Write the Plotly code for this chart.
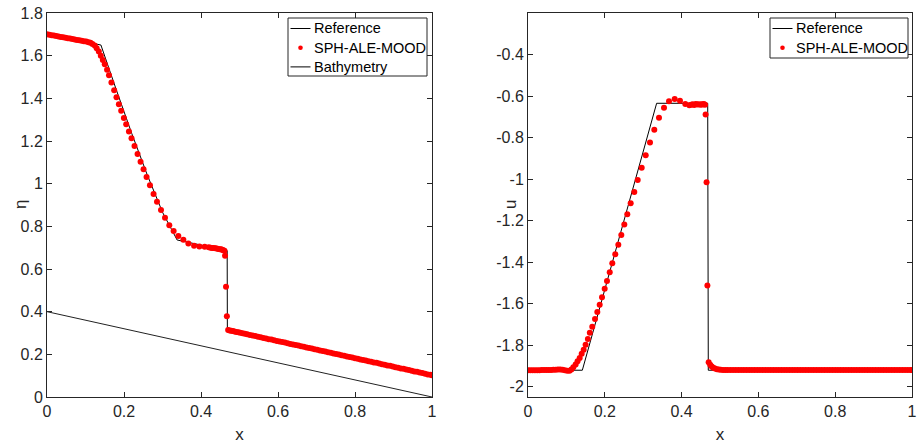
import plotly.graph_objects as go

# ---------------- data ----------------
# SPH-ALE-MOOD particle positions (shared by both panels)
x_sph = [
    0.000, 0.006, 0.012, 0.018, 0.024, 0.030, 0.036, 0.042, 0.048, 0.054,
    0.060, 0.066, 0.072, 0.078, 0.084, 0.090, 0.096, 0.102, 0.108, 0.113,
    0.118, 0.124, 0.129, 0.1346, 0.1398, 0.145, 0.150, 0.156, 0.161, 0.1674,
    0.1745, 0.1805, 0.1867, 0.1927, 0.1997, 0.2057, 0.2128, 0.2195, 0.2273, 0.2352,
    0.2430, 0.2508, 0.2586, 0.2674, 0.2768, 0.2857, 0.2961, 0.3065, 0.3177, 0.3289,
    0.3411, 0.3542, 0.3672, 0.3820, 0.3958, 0.4096, 0.4201,
    0.425, 0.429, 0.433, 0.437, 0.441, 0.445, 0.449, 0.452, 0.455, 0.458, 0.461,
    0.4625, 0.4650, 0.4672,
    0.4705, 0.4745, 0.4785, 0.4825, 0.487, 0.492, 0.497, 0.502, 0.508, 0.514,
    0.520, 0.527, 0.534, 0.541, 0.548, 0.555, 0.562, 0.569, 0.576, 0.583,
    0.590, 0.597, 0.604, 0.611, 0.618, 0.625, 0.632, 0.639, 0.646, 0.653,
    0.660, 0.667, 0.674, 0.681, 0.688, 0.695, 0.702, 0.709, 0.716, 0.723,
    0.730, 0.737, 0.744, 0.751, 0.758, 0.765, 0.772, 0.779, 0.786, 0.793,
    0.800, 0.807, 0.814, 0.821, 0.828, 0.835, 0.842, 0.849, 0.856, 0.863,
    0.870, 0.877, 0.884, 0.891, 0.898, 0.905, 0.912, 0.919, 0.926, 0.933,
    0.940, 0.947, 0.954, 0.961, 0.968, 0.975, 0.982, 0.989, 0.996, 1.000,
]
eta_sph = [
    1.700, 1.698, 1.696, 1.694, 1.692, 1.690, 1.688, 1.686, 1.684, 1.682,
    1.680, 1.678, 1.676, 1.674, 1.672, 1.670, 1.668, 1.666, 1.663, 1.660,
    1.655, 1.648, 1.635, 1.619, 1.600, 1.580, 1.560, 1.534, 1.508, 1.474,
    1.438, 1.405, 1.372, 1.342, 1.308, 1.279, 1.245, 1.213, 1.176, 1.139,
    1.103, 1.067, 1.031, 0.993, 0.952, 0.915, 0.877, 0.840, 0.805, 0.778,
    0.755, 0.737, 0.720, 0.709, 0.705, 0.704, 0.702,
    0.700, 0.699, 0.698, 0.697, 0.696, 0.694, 0.693, 0.692, 0.690, 0.688, 0.686,
    0.662, 0.517, 0.378,
    0.314, 0.312, 0.310, 0.309, 0.307, 0.305, 0.303, 0.301, 0.299, 0.296,
    0.294, 0.291, 0.288, 0.286, 0.283, 0.280, 0.277, 0.274, 0.271, 0.269,
    0.266, 0.263, 0.260, 0.258, 0.255, 0.252, 0.249, 0.246, 0.244, 0.241,
    0.238, 0.235, 0.232, 0.230, 0.227, 0.224, 0.221, 0.218, 0.216, 0.213,
    0.210, 0.207, 0.204, 0.202, 0.199, 0.196, 0.193, 0.190, 0.188, 0.185,
    0.182, 0.179, 0.176, 0.174, 0.171, 0.168, 0.165, 0.162, 0.160, 0.157,
    0.154, 0.151, 0.148, 0.146, 0.143, 0.140, 0.137, 0.134, 0.132, 0.129,
    0.126, 0.123, 0.120, 0.118, 0.115, 0.112, 0.109, 0.106, 0.104, 0.102,
]
u_sph = [
    -1.921, -1.921, -1.921, -1.921, -1.921, -1.921, -1.920, -1.920, -1.920, -1.920,
    -1.920, -1.919, -1.919, -1.918, -1.918, -1.919, -1.921, -1.923, -1.923, -1.918,
    -1.907, -1.894, -1.878, -1.862, -1.842, -1.822, -1.798, -1.770, -1.741, -1.711,
    -1.674, -1.640, -1.605, -1.570, -1.529, -1.491, -1.449, -1.406, -1.362, -1.317,
    -1.269, -1.219, -1.170, -1.117, -1.062, -1.004, -0.946, -0.885, -0.824, -0.763,
    -0.705, -0.657, -0.625, -0.614, -0.623, -0.638, -0.645,
    -0.642, -0.640, -0.643, -0.639, -0.641, -0.640, -0.642, -0.640, -0.641, -0.639, -0.642,
    -0.689, -1.015, -1.513,
    -1.883, -1.895, -1.903, -1.909, -1.913, -1.916, -1.918, -1.919, -1.920, -1.920,
    -1.920, -1.920, -1.920, -1.920, -1.920, -1.920, -1.920, -1.920, -1.920, -1.920,
    -1.920, -1.920, -1.920, -1.920, -1.920, -1.920, -1.920, -1.920, -1.920, -1.920,
    -1.920, -1.920, -1.920, -1.920, -1.920, -1.920, -1.920, -1.920, -1.920, -1.920,
    -1.920, -1.920, -1.920, -1.920, -1.920, -1.920, -1.920, -1.920, -1.920, -1.920,
    -1.920, -1.920, -1.920, -1.920, -1.920, -1.920, -1.920, -1.920, -1.920, -1.920,
    -1.920, -1.920, -1.920, -1.920, -1.920, -1.920, -1.920, -1.920, -1.920, -1.920,
    -1.920, -1.920, -1.920, -1.920, -1.920, -1.920, -1.920, -1.920, -1.920, -1.920,
]

# Reference (exact) solution
x_ref_eta = [0.0, 0.14, 0.18, 0.22, 0.26, 0.30, 0.338, 0.468, 0.4685, 1.0]
eta_ref = [1.700, 1.650, 1.440, 1.236, 1.043, 0.866, 0.736, 0.686, 0.314, 0.102]

x_ref_u = [0.0, 0.1415, 0.335, 0.468, 0.4695, 1.0]
u_ref = [-1.921, -1.921, -0.635, -0.635, -1.921, -1.921]

# Bathymetry
x_bath = [0.0, 1.0]
b_bath = [0.4, 0.0]

x_ticks = [0, 0.2, 0.4, 0.6, 0.8, 1]
x_tick_text = ["0", "0.2", "0.4", "0.6", "0.8", "1"]
eta_ticks = [0, 0.2, 0.4, 0.6, 0.8, 1, 1.2, 1.4, 1.6, 1.8]
eta_tick_text = ["0", "0.2", "0.4", "0.6", "0.8", "1", "1.2", "1.4", "1.6", "1.8"]
u_ticks = [-2, -1.8, -1.6, -1.4, -1.2, -1, -0.8, -0.6, -0.4]
u_tick_text = ["-2", "-1.8", "-1.6", "-1.4", "-1.2", "-1", "-0.8", "-0.6", "-0.4"]

legend1_labels = ["Reference", "SPH-ALE-MOOD", "Bathymetry"]
legend2_labels = ["Reference", "SPH-ALE-MOOD"]

# ---------------- figure ----------------
W, H = 917, 444
FONT = "Liberation Sans, Arial, Helvetica, sans-serif"
AX = "#262626"
RED = "#FF0000"

fig = go.Figure()

fig.add_trace(go.Scatter(x=x_ref_eta, y=eta_ref, mode="lines", name=legend1_labels[0],
                         line=dict(color="black", width=1), xaxis="x", yaxis="y"))
fig.add_trace(go.Scatter(x=x_sph, y=eta_sph, mode="markers", name=legend1_labels[1],
                         marker=dict(color=RED, size=6, line=dict(width=0)),
                         xaxis="x", yaxis="y"))
fig.add_trace(go.Scatter(x=x_bath, y=b_bath, mode="lines", name=legend1_labels[2],
                         line=dict(color="#222222", width=1), xaxis="x", yaxis="y"))

fig.add_trace(go.Scatter(x=x_ref_u, y=u_ref, mode="lines", name=legend2_labels[0],
                         line=dict(color="black", width=1), xaxis="x2", yaxis="y2"))
fig.add_trace(go.Scatter(x=x_sph, y=u_sph, mode="markers", name=legend2_labels[1],
                         marker=dict(color=RED, size=6, line=dict(width=0)),
                         xaxis="x2", yaxis="y2"))

axis_common = dict(showline=True, linecolor=AX, linewidth=1, mirror="ticks",
                   ticks="inside", ticklen=5, tickcolor=AX, tickwidth=1,
                   showgrid=False, zeroline=False, automargin=False,
                   tickfont=dict(family=FONT, size=16, color=AX))

# ---- MATLAB-style legends drawn in pixel space ----
shapes = []
annotations = []


def px(xp):
    return xp / W


def py(yp):
    return 1 - yp / H


def add_legend(box, labels, kinds):
    x0, y0, x1, y1 = box
    shapes.append(dict(type="rect", xref="paper", yref="paper",
                       x0=px(x0), x1=px(x1), y0=py(y1), y1=py(y0),
                       line=dict(color=AX, width=1), fillcolor="white",
                       layer="above"))
    for i, (lab, kind) in enumerate(zip(labels, kinds)):
        yc = y0 + 10.5 + 19.2 * i
        if kind == "line":
            shapes.append(dict(type="line", xref="paper", yref="paper",
                               x0=px(x0 + 2.5), x1=px(x0 + 22.5), y0=py(yc), y1=py(yc),
                               line=dict(color="black", width=1), layer="above"))
        else:
            shapes.append(dict(type="circle", xref="paper", yref="paper",
                               x0=px(x0 + 10.2), x1=px(x0 + 14.8),
                               y0=py(yc + 2.3), y1=py(yc - 2.3),
                               line=dict(width=0), fillcolor=RED, layer="above"))
        annotations.append(dict(text=lab, xref="paper", yref="paper",
                                x=px(x0 + 23.5), y=py(yc), xanchor="left",
                                yanchor="middle", showarrow=False,
                                font=dict(family=FONT, size=14.5, color="black")))


add_legend((288, 18, 427, 76), legend1_labels, ["line", "dot", "line"])
add_legend((770, 18, 908, 58), legend2_labels, ["line", "dot"])

# y-axis labels (MATLAB places them close to the tick-label column)
for text, xpix in [("η", 20), ("u", 510)]:
    annotations.append(dict(text=text, xref="paper", yref="paper",
                            x=px(xpix), y=py(205), xanchor="center",
                            yanchor="middle", showarrow=False, textangle=-90,
                            font=dict(family=FONT, size=17, color=AX)))

yd = [47 / H, 431 / H]
fig.update_layout(
    width=W, height=H,
    margin=dict(l=0, r=0, t=0, b=0),
    paper_bgcolor="white", plot_bgcolor="white",
    font=dict(family=FONT, size=16, color=AX),
    showlegend=False,
    xaxis=dict(domain=[47 / W, 432 / W], range=[0, 1], anchor="y",
               tickvals=x_ticks, ticktext=x_tick_text,
               title=dict(text="x", standoff=9, font=dict(size=17)), **axis_common),
    yaxis=dict(domain=yd, range=[0, 1.8], anchor="x",
               tickvals=eta_ticks, ticktext=eta_tick_text, **axis_common),
    xaxis2=dict(domain=[528 / W, 912 / W], range=[0, 1], anchor="y2",
                tickvals=x_ticks, ticktext=x_tick_text,
                title=dict(text="x", standoff=9, font=dict(size=17)), **axis_common),
    yaxis2=dict(domain=yd, range=[-2.05, -0.2], anchor="x2",
                tickvals=u_ticks, ticktext=u_tick_text, **axis_common),
    shapes=shapes,
    annotations=annotations,
)

fig.write_html("out.html", config={"displayModeBar": False},
               post_script="document.body.style.margin='0px';"
                           "document.body.style.overflow='hidden';")
